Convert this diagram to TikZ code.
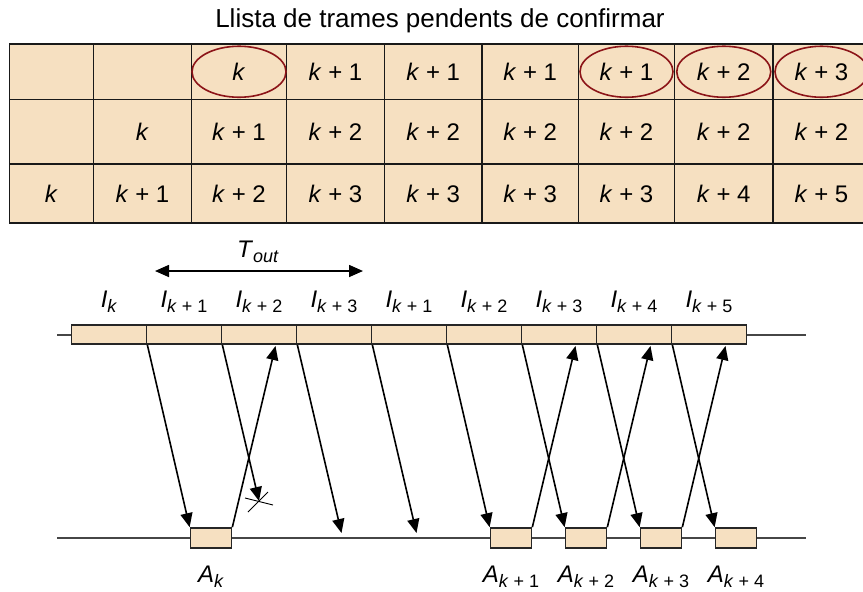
\documentclass[tikz,border=0pt]{standalone}
\usepackage{fontspec}
\setmainfont{Liberation Sans}
\usetikzlibrary{arrows.meta}
\definecolor{wheatFill}{RGB}{246,224,193}
\definecolor{ringRed}{RGB}{140,20,24}
\definecolor{wireGray}{RGB}{70,70,70}
\newcommand{\kk}{\textit{k}}
\newcommand{\kp}[1]{\textit{k} + #1}
\newcommand{\frm}[2]{\textit{#1}\raisebox{-5pt}{\fontsize{18}{21}\selectfont #2}}

\begin{document}
\begin{tikzpicture}[
    x=1pt, y=-1pt,
    cell/.style={
        draw=black!90,
        line width=1.8pt,
        fill=wheatFill,
        inner sep=0pt,
        font=\fontsize{24}{28}\selectfont
    },
    ring/.style={
        draw=ringRed,
        line width=1.6pt
    },
    frame/.style={
        draw=black!85,
        line width=1.7pt,
        fill=wheatFill,
        minimum width=75pt,
        minimum height=19pt,
        inner sep=0pt
    },
    ack/.style={
        frame,
        minimum width=41pt,
        minimum height=20pt
    },
    wire/.style={
        draw=wireGray,
        line width=2.2pt
    },
    lab/.style={
        font=\fontsize{24}{28}\selectfont,
        inner sep=0pt,
        anchor=base
    },
    arrow/.style={
        -{Triangle[length=14pt,width=12pt]},
        line width=1.6pt
    },
    both/.style={
        {Triangle[length=14pt,width=12pt]}-{Triangle[length=14pt,width=12pt]},
        line width=1.6pt
    }
]
    \useasboundingbox (0,0) rectangle (863,592);
    \clip (0,0) rectangle (863,592);

    % ---------------------------------------------------------
    % TOP: LIST OF FRAMES WAITING FOR CONFIRMATION
    % ---------------------------------------------------------
    \node[lab, font=\fontsize{26}{30}\selectfont] (title) at (440,27) {Llista de trames pendents de confirmar};

    \foreach \r/\ya/\yb/\row in {
        1/44/99.5/{{},{},\kk,\kp1,\kp1,\kp1,\kp1,\kp2,\kp3},
        2/99.5/164/{{},\kk,\kp1,\kp2,\kp2,\kp2,\kp2,\kp2,\kp2},
        3/164/223/{\kk,\kp1,\kp2,\kp3,\kp3,\kp3,\kp3,\kp4,\kp5}} {
        \foreach \t [count=\c] in \row {
            \pgfmathsetmacro{\xa}{{9.5,93.5,191.5,286.5,384.5,482,578.5,674.5,773,870}[\c-1]}
            \pgfmathsetmacro{\xb}{{9.5,93.5,191.5,286.5,384.5,482,578.5,674.5,773,870}[\c]}
            \node[cell, minimum width={(\xb-\xa)*1pt}, minimum height={(\yb-\ya)*1pt}]
                (c-\r-\c) at ({(\xa+\xb)/2},{(\ya+\yb)/2}) {\t};
        }
    }

    % confirmed ones
    \foreach \c/\rx in {3/47, 7/46.5, 8/47, 9/46.5}
        \draw[ring] (c-1-\c) ellipse [x radius=\rx pt, y radius=25.5pt];

    % ---------------------------------------------------------
    % BOTTOM: TIME LINES
    % ---------------------------------------------------------
    \coordinate (up-a) at (57,335);
    \coordinate (up-b) at (806,335);
    \coordinate (dn-a) at (57,538);
    \coordinate (dn-b) at (806,538);
    \draw[wire] (up-a) -- (up-b);
    \draw[wire] (dn-a) -- (dn-b);

    % I frames (sender)
    \foreach \i/\ix in {1/\kk, 2/\kp1, 3/\kp2, 4/\kp3, 5/\kp1, 6/\kp2, 7/\kp3, 8/\kp4, 9/\kp5} {
        \node[frame] (f\i) at ({34+75*\i},334.5) {};
        \node[lab] (fl\i) at ({34+75*\i},307) {\frm{I}{\ix}};
    }

    % acknowledgements (receiver)
    \foreach \j/\f/\ix in {0/2/\kk, 1/6/\kp1, 2/7/\kp2, 3/8/\kp3, 4/9/\kp4} {
        \node[ack] (a\j) at ({34+75*\f+27},538) {};
        \node[lab] (al\j) at ({34+75*\f+27},582) {\frm{A}{\ix}};
    }

    % timeout
    \coordinate (tout-a) at (155,271);
    \coordinate (tout-b) at (363,271);
    \draw[both] (tout-a) -- (tout-b);
    \node[lab] (tout) at (258,257) {\frm{T}{\textit{out}}};

    % ---------------------------------------------------------
    % ARROWS
    % ---------------------------------------------------------
    % frames that arrive
    \draw[arrow] (f1.south east) -- (a0.north west);
    \draw[arrow] (f5.south east) -- (a1.north west);
    \draw[arrow] (f6.south east) -- (a2.north west);
    \draw[arrow] (f7.south east) -- (a3.north west);
    \draw[arrow] (f8.south east) -- (a4.north west);

    % lost frame
    \coordinate (lost) at (259,501);
    \draw[arrow] (f2.south east) -- (lost);
    \draw[line width=0.9pt] (lost) ++(-14,-3) -- ++(28,7);
    \draw[line width=0.9pt] (lost) ++(-11,11) -- ++(20,-20);

    % frames out of order
    \coordinate (d3) at (341.5,533);
    \coordinate (d4) at (416.5,533);
    \draw[arrow] (f3.south east) -- (d3);
    \draw[arrow] (f4.south east) -- (d4);

    % acknowledgements back
    \foreach \j/\x in {0/275.5, 1/575.5, 2/650.5, 3/725.5} {
        \coordinate (r\j) at (\x,346);
        \draw[arrow] (a\j.north east) -- (r\j);
    }

\end{tikzpicture}
\end{document}
